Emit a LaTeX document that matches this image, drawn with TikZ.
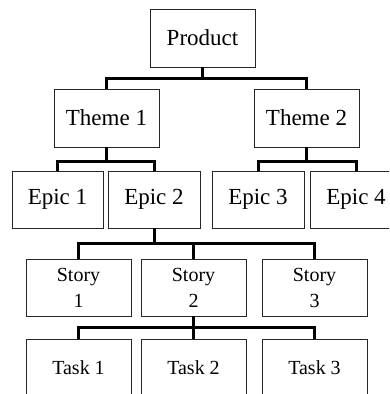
\documentclass[tikz,border=0pt]{standalone}
\usepackage{fontspec}
\setmainfont{Liberation Serif}
\begin{document}
\begin{tikzpicture}[x=1pt,y=-1pt,
  box/.style={draw=black!85, line width=1pt, fill=white, inner sep=0pt, outer sep=0pt,
    minimum height=57pt, align=center},
  big/.style={box, font=\fontsize{23}{28}\selectfont},
  small/.style={box, font=\fontsize{20}{26}\selectfont},
  conn/.style={draw=black, line width=3pt}]
\useasboundingbox (0,0) rectangle (389,394);
\clip (0,0) rectangle (389,394);
\node[big, minimum width=105pt, minimum height=58pt] (prod) at (202.5,38) {Product};
\node[big, minimum width=105pt, minimum height=58pt] (t1) at (106.5,118) {Theme 1};
\node[big, minimum width=105pt, minimum height=58pt] (t2) at (306.5,118) {Theme 2};
\node[big, minimum width=91pt] (e1) at (57.5,199.5) {Epic 1};
\node[big, minimum width=92pt] (e2) at (154,199.5) {Epic 2};
\node[big, minimum width=92pt] (e3) at (258,199.5) {Epic 3};
\node[big, minimum width=92pt] (e4) at (356,199.5) {Epic 4};
\node[small, minimum width=105pt] (s1) at (78.5,287.5) {Story\\1};
\node[small, minimum width=105pt] (s2) at (193.5,287.5) {Story\\2};
\node[small, minimum width=105pt] (s3) at (314.5,287.5) {Story\\3};
\node[small, minimum width=105pt] (k1) at (78.5,367.5) {Task 1};
\node[small, minimum width=105pt] (k2) at (193.5,367.5) {Task 2};
\node[small, minimum width=105pt] (k3) at (314.5,367.5) {Task 3};
\draw[conn] (prod.south) -- ++(0,11) -| (t1.north);
\draw[conn] (prod.south) -- ++(0,11) -| (t2.north);
\draw[conn] (t1.south) -- ++(0,14) -| (e1.north);
\draw[conn] (t1.south) -- ++(0,14) -| (e2.north);
\draw[conn] (t2.south) -- ++(0,14) -| (e3.north);
\draw[conn] (t2.south) -- ++(0,14) -| (e4.north);
\draw[conn] (e2.south) -- ++(0,15) -| (s1.north);
\draw[conn] (e2.south) -- ++(0,15) -| (s2.north);
\draw[conn] (e2.south) -- ++(0,15) -| (s3.north);
\draw[conn] (s2.south) -- ++(0,11) -| (k1.north);
\draw[conn] (s2.south) -- ++(0,11) -| (k2.north);
\draw[conn] (s2.south) -- ++(0,11) -| (k3.north);
\end{tikzpicture}
\end{document}
